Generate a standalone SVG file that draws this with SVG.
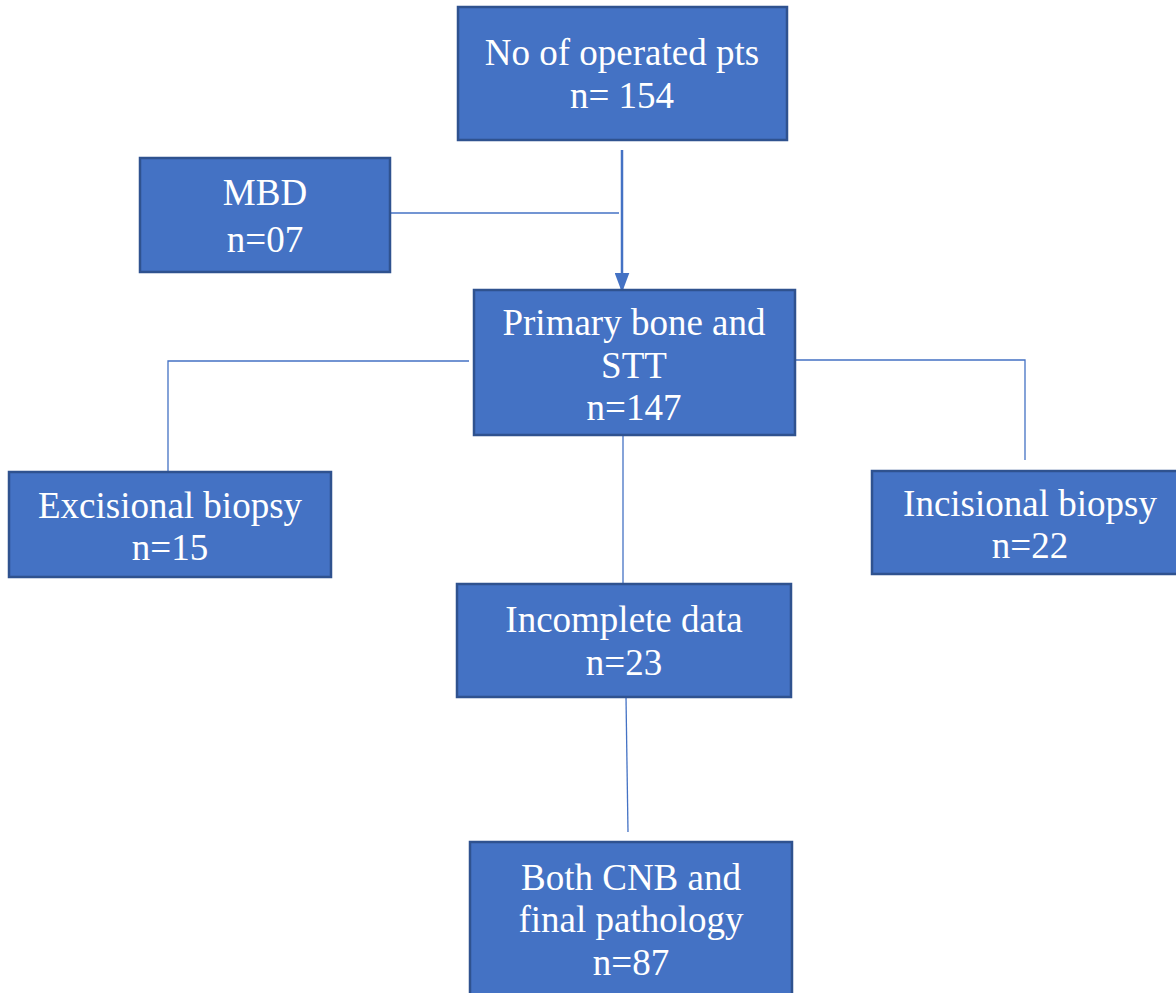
<svg xmlns="http://www.w3.org/2000/svg" width="1176" height="993" viewBox="0 0 1176 993">
<defs>
<style>
.box{fill:#4472C4;stroke:#2F528F;stroke-width:2.5}
.t{font-family:"Liberation Serif","Times New Roman",serif;font-size:37px;fill:#FFFFFF;text-anchor:middle}
.c{fill:none;stroke:#4472C4;stroke-width:1.3}
.ca{fill:none;stroke:#4472C4;stroke-width:2.5}
</style>
<marker id="arr" markerWidth="8" markerHeight="6" refX="7" refY="3" orient="auto" markerUnits="strokeWidth">
<path d="M0,0 L8,3 L0,6 Z" fill="#4472C4"/>
</marker>
</defs>
<rect width="1176" height="993" fill="#FFFFFF"/>
<g id="connectors">
<path class="ca" d="M622,150 L622,290" marker-end="url(#arr)"/>
<path class="c" d="M391,213 L619,213"/>
<path class="c" d="M469,361 L168,361 L168,472"/>
<path class="c" d="M795,360 L1025,360 L1025,460"/>
<path class="c" d="M623,435 L623,584"/>
<path class="c" d="M626,697 L628,832"/>
</g>
<g id="n1">
<rect class="box" x="458" y="7" width="329" height="133"/>
<text class="t" x="622" y="65">No of operated pts</text>
<text class="t" x="622" y="108">n= 154</text>
</g>
<g id="n2">
<rect class="box" x="140" y="158" width="250" height="114"/>
<text class="t" x="265" y="205">MBD</text>
<text class="t" x="265" y="252">n=07</text>
</g>
<g id="n3">
<rect class="box" x="474" y="290" width="321" height="145"/>
<text class="t" x="634" y="335">Primary bone and</text>
<text class="t" x="634" y="378">STT</text>
<text class="t" x="634" y="420">n=147</text>
</g>
<g id="n4">
<rect class="box" x="9" y="472" width="322" height="105"/>
<text class="t" x="170" y="518">Excisional biopsy</text>
<text class="t" x="170" y="560">n=15</text>
</g>
<g id="n5">
<rect class="box" x="872" y="471" width="306" height="103"/>
<text class="t" x="1030" y="516">Incisional biopsy</text>
<text class="t" x="1030" y="558">n=22</text>
</g>
<g id="n6">
<rect class="box" x="457" y="584" width="334" height="113"/>
<text class="t" x="624" y="632">Incomplete data</text>
<text class="t" x="624" y="675">n=23</text>
</g>
<g id="n7">
<rect class="box" x="470" y="842" width="322" height="160"/>
<text class="t" x="631" y="890">Both CNB and</text>
<text class="t" x="631" y="932">final pathology</text>
<text class="t" x="631" y="975">n=87</text>
</g>
</svg>
